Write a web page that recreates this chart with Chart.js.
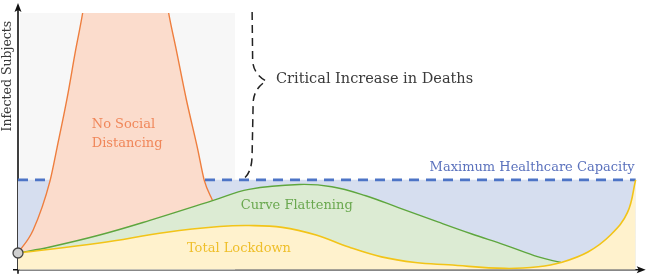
<!DOCTYPE html>
<html>
<head>
<meta charset="utf-8">
<script src="https://cdn.jsdelivr.net/npm/chart.js@4"></script>
<style>
  html, body { margin: 0; padding: 0; background: #fff; }
  canvas { display: block; }
</style>
</head>
<body>
<canvas id="chart" width="652" height="276"></canvas>
<script>
// values (x: time 0-100, y: infected 0-100)
const lockdownX = [0, 13.0, 23.7, 32.1, 36.8, 42.1, 47.5, 52.7, 57.9, 63.3, 68.6, 77.6, 82.9, 86.5, 90.8, 94.4, 97.1, 98.4];
const lockdownY = [6.5, 10.4, 14.6, 16.8, 17.2, 16.5, 13.5, 8.8, 5.0, 2.8, 1.9, 0.5, 1.15, 2.8, 6.9, 13.5, 22.3, 35.0];

const flattenX = [0, 5.1, 13.0, 21.0, 31.0, 36.8, 44.8, 50.0, 55.4, 60.6, 67.0, 72.2, 77.6, 82.9, 86.5];
const flattenY = [6.5, 8.85, 13.5, 19.2, 26.9, 31.3, 33.2, 32.3, 28.8, 24.2, 18.5, 14.0, 9.6, 5.0, 2.8];

const noDistX = [0, 2.4, 5.1, 6.2, 7.8, 9.2, 10.3, 11.5, 22.7, 24.0, 25.2, 26.8, 28.6, 29.7, 31.0];
const noDistY = [6.5, 15.4, 34.6, 47.3, 66.5, 85.8, 100, 120, 120, 100, 85.8, 66.5, 47.3, 34.6, 26.9];

const capacityX = [0, 98.4];
const capacityY = [35, 35];

const chartTopX = [0.3, 34.6];
const chartTopY = [100, 100];

const originX = [0];
const originY = [6.5];

function pts(xs, ys) {
  return xs.map(function (x, i) { return { x: x, y: ys[i] }; });
}

const serif = "'DejaVu Serif', serif";

// text labels, anchored in data units
const labels = [
  { text: "Critical Increase in Deaths", x: 41.1, y: 74.2, align: "left", color: "#3a3a3a", size: 14.5 },
  { text: "Maximum Healthcare Capacity", x: 98.25, y: 39.6, align: "right", color: "#5b72bd", size: 13 },
  { text: "Curve Flattening", x: 44.4, y: 25, align: "center", color: "#6aa84f", size: 13 },
  { text: "Total Lockdown", x: 35.2, y: 8.1, align: "center", color: "#efbf2a", size: 13 },
  { text: "No Social", x: 11.75, y: 56.5, align: "left", color: "#f0875a", size: 13 },
  { text: "Distancing", x: 11.75, y: 49.2, align: "left", color: "#f0875a", size: 13 }
];

const overlay = {
  id: "overlay",
  beforeDatasetsDraw(chart) {
    const ctx = chart.ctx;
    const a = chart.chartArea;
    ctx.save();
    ctx.strokeStyle = "#111";
    ctx.fillStyle = "#111";
    ctx.lineWidth = 1.6;
    ctx.beginPath();
    ctx.moveTo(a.left, a.bottom + 4);
    ctx.lineTo(a.left, 8);
    ctx.moveTo(a.left - 5, a.bottom);
    ctx.lineTo(a.right - 5, a.bottom);
    ctx.stroke();
    // arrow heads
    ctx.beginPath();
    ctx.moveTo(a.left, 3);
    ctx.lineTo(a.left - 3.5, 12);
    ctx.lineTo(a.left, 10);
    ctx.lineTo(a.left + 3.5, 12);
    ctx.closePath();
    ctx.fill();
    ctx.beginPath();
    ctx.moveTo(a.right, a.bottom);
    ctx.lineTo(a.right - 9, a.bottom - 3.5);
    ctx.lineTo(a.right - 7, a.bottom);
    ctx.lineTo(a.right - 9, a.bottom + 3.5);
    ctx.closePath();
    ctx.fill();
    ctx.restore();
  },
  afterDatasetsDraw(chart) {
    const ctx = chart.ctx;
    const a = chart.chartArea;
    const xs = chart.scales.x;
    const ys = chart.scales.y;

    // dashed brace from the top of the box down to the capacity line
    const bx = xs.getPixelForValue(37.3);
    const top = ys.getPixelForValue(chartTopY[0]) - 1;
    const bot = ys.getPixelForValue(capacityY[0]);
    ctx.save();
    ctx.strokeStyle = "#222";
    ctx.lineWidth = 1.5;
    ctx.setLineDash([8, 5]);
    ctx.beginPath();
    ctx.moveTo(bx, top);
    ctx.lineTo(bx + 0.5, top + 48);
    ctx.quadraticCurveTo(bx + 1, top + 62, bx + 14, top + 69);
    ctx.quadraticCurveTo(bx + 1, top + 77, bx + 1, top + 92);
    ctx.lineTo(bx, bot - 26);
    ctx.quadraticCurveTo(bx, bot - 6, bx - 10, bot);
    ctx.stroke();
    ctx.restore();

    ctx.save();
    ctx.textBaseline = "middle";
    labels.forEach(function (l) {
      ctx.font = l.size + "px " + serif;
      ctx.fillStyle = l.color;
      ctx.textAlign = l.align;
      ctx.fillText(l.text, xs.getPixelForValue(l.x), ys.getPixelForValue(l.y));
    });
    // y axis title
    ctx.translate(a.left - 10, ys.getPixelForValue(75.4));
    ctx.rotate(-Math.PI / 2);
    ctx.textAlign = "center";
    ctx.fillStyle = "#3a3a3a";
    ctx.font = "12.5px " + serif;
    ctx.fillText("Infected Subjects", 0, 0);
    ctx.restore();
  }
};

function build() {
  new Chart(document.getElementById("chart"), {
    type: "line",
    data: {
      datasets: [
        {
          data: pts(originX, originY),
          showLine: false,
          pointRadius: 5,
          pointBackgroundColor: "#cfcfcf",
          pointBorderColor: "#444",
          pointBorderWidth: 1.3,
          clip: false
        },
        {
          data: pts(lockdownX, lockdownY),
          borderColor: "#f2c418",
          borderWidth: 1.6,
          backgroundColor: "#fff2cd",
          fill: "origin",
          pointRadius: 0,
          tension: 0.4
        },
        {
          data: pts(flattenX, flattenY),
          borderColor: "#5ea63e",
          borderWidth: 1.4,
          backgroundColor: "#dcebd3",
          fill: 1,
          pointRadius: 0,
          tension: 0.4
        },
        {
          data: pts(noDistX, noDistY),
          borderColor: "#ee7e3e",
          borderWidth: 1.4,
          backgroundColor: "#fbdccc",
          fill: 2,
          pointRadius: 0,
          cubicInterpolationMode: "monotone"
        },
        {
          data: pts(capacityX, capacityY),
          borderColor: "#4d74c6",
          borderWidth: 2.6,
          borderDash: [10, 7],
          backgroundColor: "#d6deef",
          fill: "origin",
          pointRadius: 0
        },
        {
          data: pts(chartTopX, chartTopY),
          borderWidth: 0,
          backgroundColor: "#f7f7f7",
          fill: "origin",
          pointRadius: 0
        }
      ]
    },
    options: {
      responsive: false,
      animation: false,
      layout: { padding: { left: 18, right: 4, top: 13, bottom: 3 } },
      scales: {
        x: { type: "linear", min: 0, max: 100, display: false },
        y: { min: 0, max: 100, display: false }
      },
      plugins: {
        legend: { display: false },
        tooltip: { enabled: false }
      }
    },
    plugins: [overlay]
  });
}

document.fonts.load("14px 'DejaVu Serif'").then(build, build);
</script>
</body>
</html>
